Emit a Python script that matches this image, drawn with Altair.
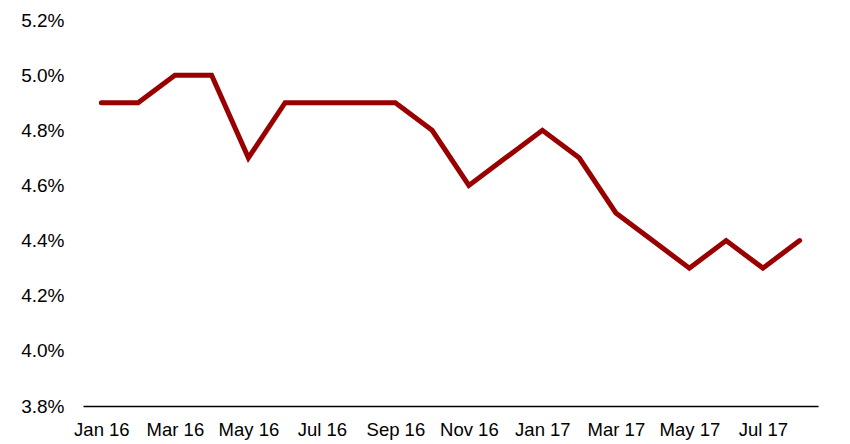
import altair as alt
import pandas as pd

months = ["Jan 16", "Feb 16", "Mar 16", "Apr 16", "May 16", "Jun 16", "Jul 16", "Aug 16",
          "Sep 16", "Oct 16", "Nov 16", "Dec 16", "Jan 17", "Feb 17", "Mar 17", "Apr 17",
          "May 17", "Jun 17", "Jul 17", "Aug 17"]
rate = [4.9, 4.9, 5.0, 5.0, 4.7, 4.9, 4.9, 4.9, 4.9, 4.8, 4.6, 4.7, 4.8, 4.7, 4.5, 4.4,
        4.3, 4.4, 4.3, 4.4]
tick_labels = months[::2]

df = pd.DataFrame({"month": months, "rate": [r / 100 for r in rate]})

chart = alt.Chart(df).mark_line(color="#990000", strokeWidth=5, strokeCap="round", strokeJoin="miter").encode(
    x=alt.X("month:O", sort=months,
            scale=alt.Scale(type="point", padding=0.5),
            axis=alt.Axis(title=None, values=tick_labels, labelAngle=0, ticks=False,
                          domainColor="#000000", domainWidth=1.5, labelPadding=14,
                          labelFont="Liberation Sans", labelFontSize=18.5, labelColor="#000000")),
    y=alt.Y("rate:Q",
            scale=alt.Scale(domain=[0.038, 0.052], nice=False, zero=False),
            axis=alt.Axis(title=None, format=".1%", values=[0.038, 0.040, 0.042, 0.044, 0.046, 0.048, 0.050, 0.052],
                          domain=False, ticks=False, grid=False, labelPadding=19,
                          labelFont="Liberation Sans", labelFontSize=19, labelColor="#000000")),
).properties(
    width=735, height=386,
    autosize=alt.AutoSizeParams(type="none"),
    padding={"left": 75, "top": 12, "right": 20, "bottom": 38},
).configure_view(stroke=None)

chart.save("out.html", embed_options={"renderer": "svg", "actions": False})
